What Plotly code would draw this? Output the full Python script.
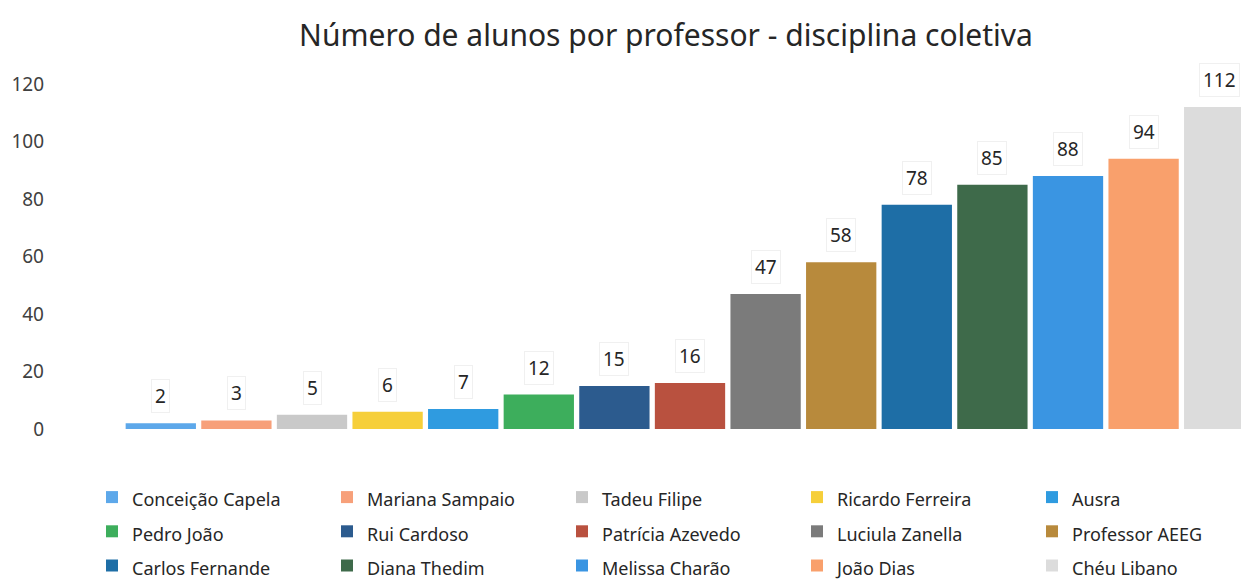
import plotly.graph_objects as go

# professores (ordem da legenda / das barras)
professores = [
    "Conceição Capela", "Mariana Sampaio", "Tadeu Filipe", "Ricardo Ferreira", "Ausra",
    "Pedro João", "Rui Cardoso", "Patrícia Azevedo", "Luciula Zanella", "Professor AEEG",
    "Carlos Fernande", "Diana Thedim", "Melissa Charão", "João Dias", "Chéu Libano",
]
alunos = [2, 3, 5, 6, 7, 12, 15, 16, 47, 58, 78, 85, 88, 94, 112]
cores = [
    "#5DA8EA", "#F7A07A", "#C9C9C9", "#F6CF3A", "#2F9BE0",
    "#3DAE5C", "#2C5B8E", "#B9513F", "#7B7B7B", "#B88A3C",
    "#1E6EA6", "#3E6A4A", "#3A95E2", "#F9A06C", "#DCDCDC",
]
y_ticks = [0, 20, 40, 60, 80, 100, 120]

# a página tem margem de 8px no body (a última barra sai pela direita, como no original)
W, H = 1249, 572
L, R, T, B = 115, 0, 76, 151
plot_w, plot_h = W - L - R, H - T - B

fig = go.Figure()
for nome, valor, cor in zip(professores, alunos, cores):
    fig.add_trace(go.Bar(
        x=[nome], y=[valor],
        name=f"<span style='font-size:18px'>{nome}</span>",
        marker=dict(color=cor, line=dict(width=0)),
        hoverinfo="x+y",
    ))
    # rótulo de dados em caixa branca acima da barra
    fig.add_annotation(
        x=nome, y=valor, xref="x", yref="y", text=str(valor),
        showarrow=False, yanchor="bottom", yshift=10,
        font=dict(size=19, color="#262626"),
        bgcolor="white", bordercolor="#F0F0F0", borderwidth=1, borderpad=3,
    )

fig.update_layout(
    width=W, height=H,
    paper_bgcolor="white", plot_bgcolor="white",
    font=dict(family="Noto Sans", color="#262626"),
    title=dict(text="Número de alunos por professor - disciplina coletiva",
               x=658 / W, xanchor="center", y=1 - 27 / H, yanchor="middle",
               font=dict(size=30, color="#262626")),
    margin=dict(l=L, r=R, t=T, b=B, autoexpand=False),
    barmode="overlay", bargap=0.07,
    showlegend=True,
    legend=dict(orientation="h", xref="paper", yref="paper",
                x=(84 - L) / plot_w, xanchor="left", y=-46 / plot_h, yanchor="top",
                entrywidth=190, font=dict(size=24, color="#262626"),
                traceorder="normal"),
)
fig.update_xaxes(showticklabels=False, showgrid=False, zeroline=False, showline=False)
fig.update_yaxes(range=[0, 120], tickvals=y_ticks, showgrid=False, zeroline=False,
                 showline=False, tickfont=dict(size=19, color="#404040"), ticks="",
                 ticklabelstandoff=78)

fig.write_html("out.html")
